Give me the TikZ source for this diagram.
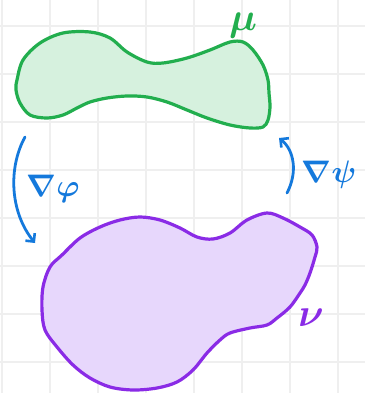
\documentclass[tikz,border=0pt]{standalone}
\usetikzlibrary{arrows.meta}
\definecolor{gridgray}{HTML}{EFEFEF}
\definecolor{mugreen}{HTML}{22AE4E}
\definecolor{mufill}{HTML}{D6F1DE}
\definecolor{nuviolet}{HTML}{8A2BE6}
\definecolor{nufill}{HTML}{E7D7FC}
\definecolor{mapblue}{HTML}{1479DC}
\tikzset{
  blob/.style={line width=3.2pt, line join=round},
  maparrow/.style={mapblue, line width=2.8pt, line cap=round,
    -{Straight Barb[length=6pt,width=12pt,line width=2.6pt]}},
  maplabel/.style={mapblue, font=\fontsize{20.74}{24}\selectfont\boldmath,
    scale=1.5, transform shape},
  measure/.style={font=\fontsize{20.74}{24}\selectfont\boldmath,
    scale=1.9, transform shape}
}
\begin{document}
\begin{tikzpicture}[x=1pt,y=-1pt]
\useasboundingbox (0,0) rectangle (365,393);
\fill[white] (0,0) rectangle (365,393);
% background grid
\foreach \gx in {2,50,...,338} \draw[gridgray, line width=1.4pt] (\gx,0) -- (\gx,393);
\foreach \gy in {26,74,...,362} \draw[gridgray, line width=1.4pt] (0,\gy) -- (365,\gy);

% the measure mu
\draw[blob, mugreen, fill=mufill] plot[smooth cycle, tension=0.55] coordinates {
  (17,80) (23,60) (40,43) (63,33) (90,32) (110,38) (127,52) (147,62) (163,63)
  (187,58) (210,50) (230,42) (243,42) (253,50) (263,65) (268,80) (269,93)
  (270,107) (268,120) (263,127) (250,128) (230,125) (207,118) (187,110)
  (167,102) (147,97) (127,96) (107,98) (90,102) (77,108) (63,115) (47,118)
  (30,115) (20,103) (16,90)};
\node[measure, mugreen] (mu) at (243,26) {$\mu$};

% the measure nu
\draw[blob, nuviolet, fill=nufill] plot[smooth cycle, tension=0.55] coordinates {
  (42,310) (43,287) (50,267) (62,255) (80,238) (100,227) (120,220) (140,217)
  (160,220) (180,228) (197,237) (213,239) (230,233) (247,220) (267,213)
  (283,218) (300,227) (312,235) (317,247) (315,257) (310,273) (305,285)
  (300,293) (290,307) (277,318) (267,325) (250,328) (230,333) (220,340)
  (207,353) (193,370) (177,382) (157,388) (133,390) (110,387) (90,378)
  (73,365) (57,347) (45,330)};
\node[measure, nuviolet] (nu) at (311,318) {$\nu$};

% transport maps between the two measures
\coordinate (phiS) at (25,137);
\coordinate (phiE) at (35,243);
\coordinate (psiS) at (287,193);
\coordinate (psiE) at (279,138);
\draw[maparrow] (phiS) .. controls (8,168) and (10,212) .. (phiE);
\draw[maparrow] (psiS) .. controls (298,172) and (294,150) .. (psiE);
\node[maplabel] (phi) at (53,189) {$\nabla\varphi$};
\node[maplabel] (psi) at (329,175) {$\nabla\psi$};
\end{tikzpicture}
\end{document}
